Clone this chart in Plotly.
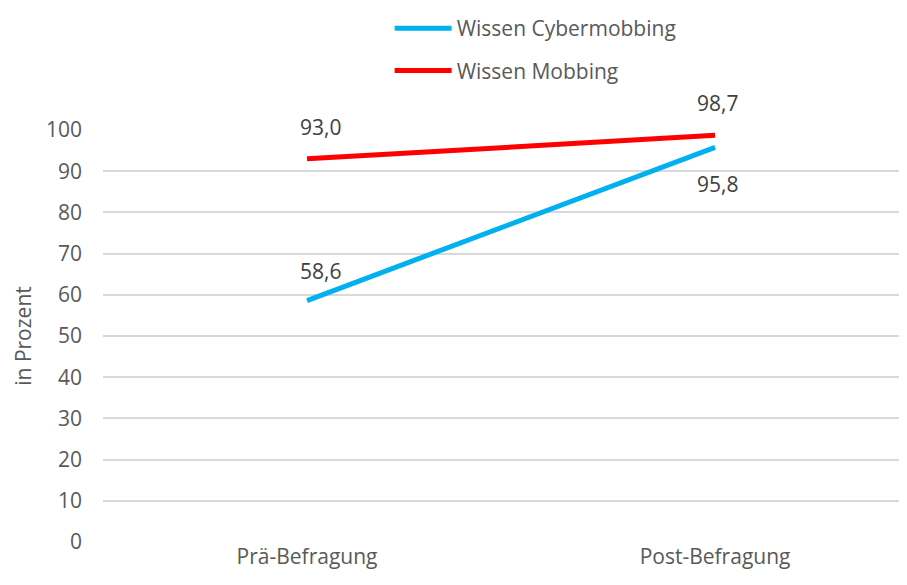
import plotly.graph_objects as go

categories = ["Prä-Befragung", "Post-Befragung"]
cyber = [58.6, 95.8]
mobbing = [93.0, 98.7]
series_names = ["Wissen Cybermobbing", "Wissen Mobbing"]
y_ticks = list(range(0, 101, 10))

FONT = "Open Sans, Liberation Sans, sans-serif"
GREY = "#595959"
LABEL = "#404040"
FS = 21

fig = go.Figure()
fig.add_trace(go.Scatter(x=[0, 1], y=cyber, mode="lines", name=series_names[0],
                         line=dict(color="#00B0F0", width=5), legendgroup="a"))
fig.add_trace(go.Scatter(x=[0, 1], y=mobbing, mode="lines", name=series_names[1],
                         line=dict(color="#FF0000", width=5), legendgroup="b"))

def fmt(v):
    return f"{v:.1f}".replace(".", ",")

# data labels
label_shift = {  # (series, index): yshift
    (0, 0): 30, (0, 1): -37,
    (1, 0): 32, (1, 1): 32,
}
for s, vals in enumerate([cyber, mobbing]):
    for i, v in enumerate(vals):
        fig.add_annotation(x=i, y=v, text=fmt(v), showarrow=False,
                           xshift=13 if i == 0 else 2, yshift=label_shift[(s, i)],
                           font=dict(family=FONT, size=FS, color=LABEL))

fig.update_layout(
    width=907, height=585,
    margin=dict(l=95, r=0, t=119, b=51),
    paper_bgcolor="white", plot_bgcolor="white",
    font=dict(family=FONT, size=FS, color=GREY),
    showlegend=True,
    legend=dict(x=0.353, y=1.297, xanchor="left", yanchor="top",
                font=dict(family=FONT, size=FS, color=GREY),
                tracegroupgap=12, traceorder="grouped", itemwidth=57,
                bgcolor="rgba(0,0,0,0)"),
    xaxis=dict(range=[-0.5, 1.49], tickmode="array", tickvals=[0, 1],
               ticktext=categories, showgrid=False, zeroline=False,
               showline=False, ticks="", tickfont=dict(size=FS, color=GREY)),
    yaxis=dict(range=[0, 100], tickmode="array", tickvals=y_ticks,
               showgrid=True, gridcolor="#D9D9D9", gridwidth=1.5,
               zeroline=False, showline=False, ticks="",
               ticklabelstandoff=20,
               tickfont=dict(size=FS, color=GREY),
               title=dict(text="in Prozent", font=dict(size=FS, color=GREY),
                          standoff=8)),
)

fig.write_html("out.html")
